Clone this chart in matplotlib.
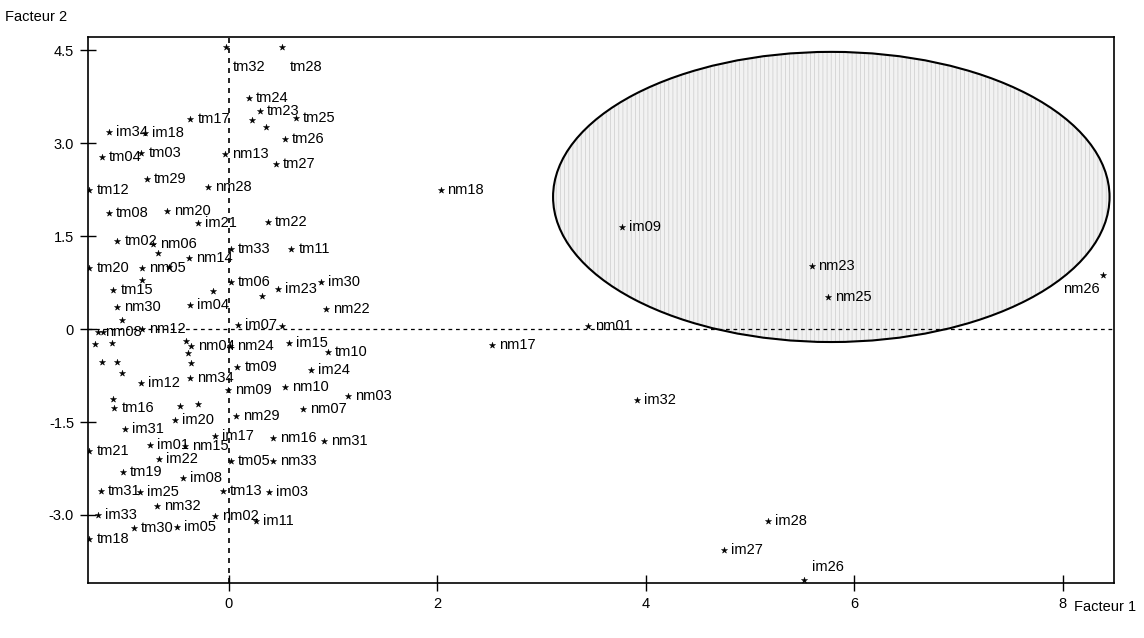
import matplotlib.pyplot as plt
from matplotlib.patches import Ellipse

plt.rcParams['font.family'] = ['Liberation Sans', 'DejaVu Sans']
plt.rcParams['hatch.linewidth'] = 0.6

# labelled observations (Facteur 1, Facteur 2)
names = ['tm32', 'tm28', 'tm24', 'tm23', 'tm25', 'tm26', 'tm27', 'tm17', 'im34', 'im18',
         'tm04', 'tm03', 'nm13', 'tm29', 'tm12', 'nm28', 'nm18', 'tm08', 'nm20', 'im21',
         'tm22', 'tm02', 'nm06', 'nm14', 'tm33', 'tm11', 'tm20', 'nm05', 'tm15', 'tm06',
         'im23', 'im30', 'nm30', 'im04', 'nm22', 'nm08', 'nm12', 'im07', 'nm24', 'im15',
         'tm10', 'nm04', 'tm09', 'im24', 'nm09', 'nm10', 'nm03', 'im12', 'nm34', 'tm16',
         'im20', 'nm29', 'nm07', 'im31', 'im17', 'nm16', 'nm31', 'tm21', 'im01', 'nm15',
         'tm05', 'nm33', 'im22', 'tm19', 'im08', 'tm31', 'im25', 'tm13', 'im03', 'nm32',
         'im33', 'nm02', 'im11', 'tm30', 'im05', 'tm18',
         'im09', 'nm23', 'nm25', 'nm26', 'nm01', 'nm17', 'im32', 'im28', 'im27', 'im26']
f1 = [-0.03, 0.51, 0.19, 0.30, 0.64, 0.54, 0.45, -0.37, -1.15, -0.81,
      -1.22, -0.84, -0.04, -0.79, -1.34, -0.20, 2.03, -1.15, -0.59, -0.30,
      0.37, -1.07, -0.73, -0.38, 0.02, 0.60, -1.34, -0.83, -1.11, 0.02,
      0.47, 0.88, -1.07, -0.37, 0.93, -1.26, -0.83, 0.09, 0.01, 0.58,
      0.95, -0.36, 0.08, 0.79, -0.01, 0.54, 1.14, -0.84, -0.37, -1.10,
      -0.52, 0.07, 0.71, -1.00, -0.13, 0.42, 0.91, -1.34, -0.76, -0.42,
      0.02, 0.42, -0.67, -1.02, -0.44, -1.23, -0.85, -0.06, 0.38, -0.69,
      -1.26, -0.13, 0.26, -0.91, -0.50, -1.34,
      3.77, 5.59, 5.75, 8.39, 3.45, 2.52, 3.92, 5.17, 4.75, 5.52]
f2 = [4.55, 4.55, 3.73, 3.52, 3.40, 3.06, 2.66, 3.39, 3.18, 3.16,
      2.77, 2.84, 2.82, 2.42, 2.24, 2.29, 2.24, 1.87, 1.90, 1.71,
      1.73, 1.42, 1.37, 1.15, 1.29, 1.29, 0.98, 0.98, 0.63, 0.76,
      0.65, 0.76, 0.35, 0.39, 0.32, -0.05, 0.00, 0.06, -0.27, -0.23,
      -0.37, -0.27, -0.61, -0.66, -0.98, -0.94, -1.08, -0.87, -0.79, -1.27,
      -1.47, -1.40, -1.29, -1.61, -1.73, -1.76, -1.81, -1.97, -1.87, -1.89,
      -2.13, -2.13, -2.10, -2.31, -2.40, -2.61, -2.63, -2.61, -2.63, -2.85,
      -3.00, -3.02, -3.10, -3.21, -3.19, -3.39,
      1.65, 1.02, 0.52, 0.87, 0.05, -0.26, -1.15, -3.10, -3.56, -4.05]

# observations whose labels are hidden under others
hid_f1 = [-1.29, -1.12, -1.22, -1.07, -1.03, -1.11, -0.41, -0.39, -0.36, -0.47,
          -0.30, -1.03, -1.21, -0.83, -0.15, 0.32, -0.68, -0.58, 0.22, 0.36, 0.51]
hid_f2 = [-0.24, -0.23, -0.53, -0.53, -0.71, -1.13, -0.19, -0.39, -0.55, -1.24,
          -1.21, 0.15, -0.05, 0.79, 0.61, 0.53, 1.23, 1.00, 3.37, 3.26, 0.05]

# label placement exceptions (pixels)
special = {'tm32': (7, -20, 'left'), 'tm28': (8, -20, 'left'),
           'im26': (8, 13, 'left'), 'nm26': (-4, -14, 'right')}

fig = plt.figure(figsize=(11.44, 6.38), dpi=100)
ax = fig.add_axes([0.0769, 0.0862, 0.8969, 0.8558])

ell_fill = Ellipse((5.78, 2.13), 5.34, 4.68, facecolor='#f2f2f2', edgecolor='#d2d2d2',
                   hatch='||||', linewidth=0, zorder=1)
ax.add_patch(ell_fill)
ell = Ellipse((5.78, 2.13), 5.34, 4.68, facecolor='none', edgecolor='black',
              linewidth=1.5, zorder=4)
ax.add_patch(ell)

ax.axhline(0, color='black', linestyle=(0, (3, 3)), linewidth=0.9, zorder=2)
ax.axvline(0, color='black', linestyle=(0, (3, 3)), linewidth=1.2, zorder=2)

ax.scatter(f1, f2, marker='*', s=22, color='black', linewidths=0.3, zorder=3)
ax.scatter(hid_f1, hid_f2, marker='*', s=22, color='black', linewidths=0.3, zorder=3)

for n, x, y in zip(names, f1, f2):
    dx, dy, ha = special.get(n, (7, 0, 'left'))
    ax.annotate(n, (x, y), xytext=(dx, dy), textcoords='offset pixels',
                ha=ha, va='center', fontsize=10.5, zorder=5)

ax.set_xlim(-1.353, 8.493)
ax.set_ylim(-4.097, 4.71)
ax.set_xticks([0, 2, 4, 6, 8])
ax.set_xticklabels(['0', '2', '4', '6', '8'])
ax.set_yticks([4.5, 3.0, 1.5, 0, -1.5, -3.0])
ax.set_yticklabels(['4.5', '3.0', '1.5', '0', '-1.5', '-3.0'])
ax.tick_params(direction='inout', length=12, width=1, labelsize=10.5, pad=4)
for s in ax.spines.values():
    s.set_linewidth(1.2)

fig.text(5 / 1144, 1 - 17 / 638, 'Facteur 2', fontsize=10.5, va='center', ha='left')
fig.text(1136 / 1144, 1 - 607 / 638, 'Facteur 1', fontsize=10.5, va='center', ha='right')

fig.savefig('out.png', dpi=100)
